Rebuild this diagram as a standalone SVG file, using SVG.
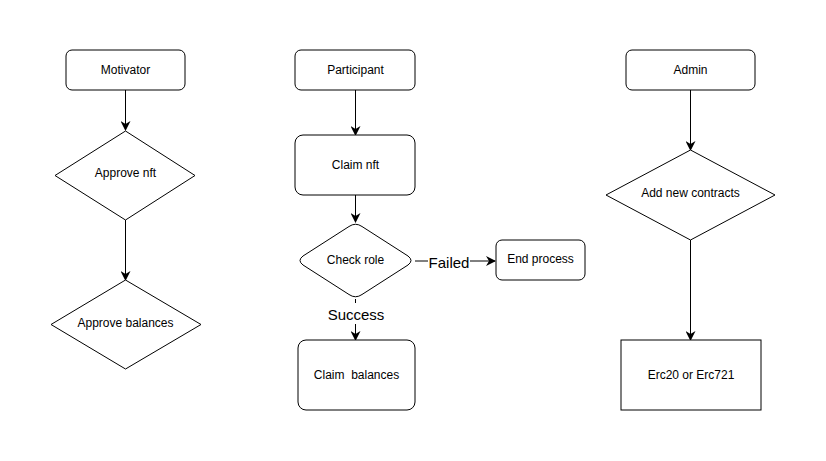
<svg xmlns="http://www.w3.org/2000/svg" width="826" height="461" viewBox="0 0 826 461">
<style>
.n{fill:#fff;stroke:#000;stroke-width:1}
.t{font-family:"Liberation Sans",Arial,sans-serif;font-size:12px;fill:#000;text-anchor:middle;dominant-baseline:central;white-space:pre}
.l{font-family:"Liberation Sans",Arial,sans-serif;font-size:15px;fill:#000;text-anchor:middle;dominant-baseline:central}
.e{fill:none;stroke:#000;stroke-width:1}
</style>
<defs>
<marker id="a" viewBox="0 0 10 10" refX="9" refY="5" markerWidth="10" markerHeight="10" markerUnits="userSpaceOnUse" orient="auto">
<path d="M0,0 L10,5 L0,10 L3,5 Z" fill="#000"/>
</marker>
</defs>
<rect width="826" height="461" fill="#fff"/>
<g id="edges">
<path class="e" d="M125.5,90 V130" marker-end="url(#a)"/>
<path class="e" d="M125.5,220 V280" marker-end="url(#a)"/>
<path class="e" d="M355.5,90 V135" marker-end="url(#a)"/>
<path class="e" d="M355.5,195 V222" marker-end="url(#a)"/>
<path class="e" d="M415,261 H428 M470,261 H495" marker-end="url(#a)"/>
<path class="e" d="M355.5,299 V303 M355.5,324 V340" marker-end="url(#a)"/>
<path class="e" d="M690.5,90 V150" marker-end="url(#a)"/>
<path class="e" d="M690.5,240 V340" marker-end="url(#a)"/>
<text class="l" x="449" y="262">Failed</text>
<text class="l" x="356" y="314">Success</text>
</g>
<g id="motivator"><rect class="n" x="66" y="50" width="119" height="40" rx="6"/><text class="t" x="125.5" y="70">Motivator</text></g>
<g id="approve-nft"><path class="n" d="M125.5,131 L195,175.5 L125.5,220 L55,175.5 Z"/><text class="t" x="125.5" y="173">Approve nft</text></g>
<g id="approve-balances"><path class="n" d="M125.5,280 L201,324.5 L125.5,369 L51,324.5 Z"/><text class="t" x="125.5" y="323">Approve balances</text></g>
<g id="participant"><rect class="n" x="295" y="50" width="120" height="40" rx="6"/><text class="t" x="355.5" y="70">Participant</text></g>
<g id="claim-nft"><rect class="n" x="295" y="135" width="120" height="60" rx="8"/><text class="t" x="355.5" y="165">Claim nft</text></g>
<g id="check-role"><path class="n" d="M349,226.5 Q355.5,222 362,226.5 L408,256 Q414,260.5 408,265 L362,294.5 Q355.5,299 349,294.5 L303,265 Q297,260.5 303,256 Z"/><text class="t" x="355.5" y="260">Check role</text></g>
<g id="end-process"><rect class="n" x="496" y="240" width="89" height="40" rx="6"/><text class="t" x="540.5" y="259">End process</text></g>
<g id="claim-balances"><rect class="n" x="298" y="340" width="117" height="70" rx="8"/><text class="t" x="356.5" y="375" xml:space="preserve">Claim  balances</text></g>
<g id="admin"><rect class="n" x="626" y="50" width="129" height="40" rx="6"/><text class="t" x="690.5" y="70">Admin</text></g>
<g id="add-contracts"><path class="n" d="M690.5,150 L775,195 L690.5,240 L606,195 Z"/><text class="t" x="690.5" y="193">Add new contracts</text></g>
<g id="erc"><rect class="n" x="621" y="340" width="140" height="70"/><text class="t" x="691" y="375">Erc20 or Erc721</text></g>
</svg>
